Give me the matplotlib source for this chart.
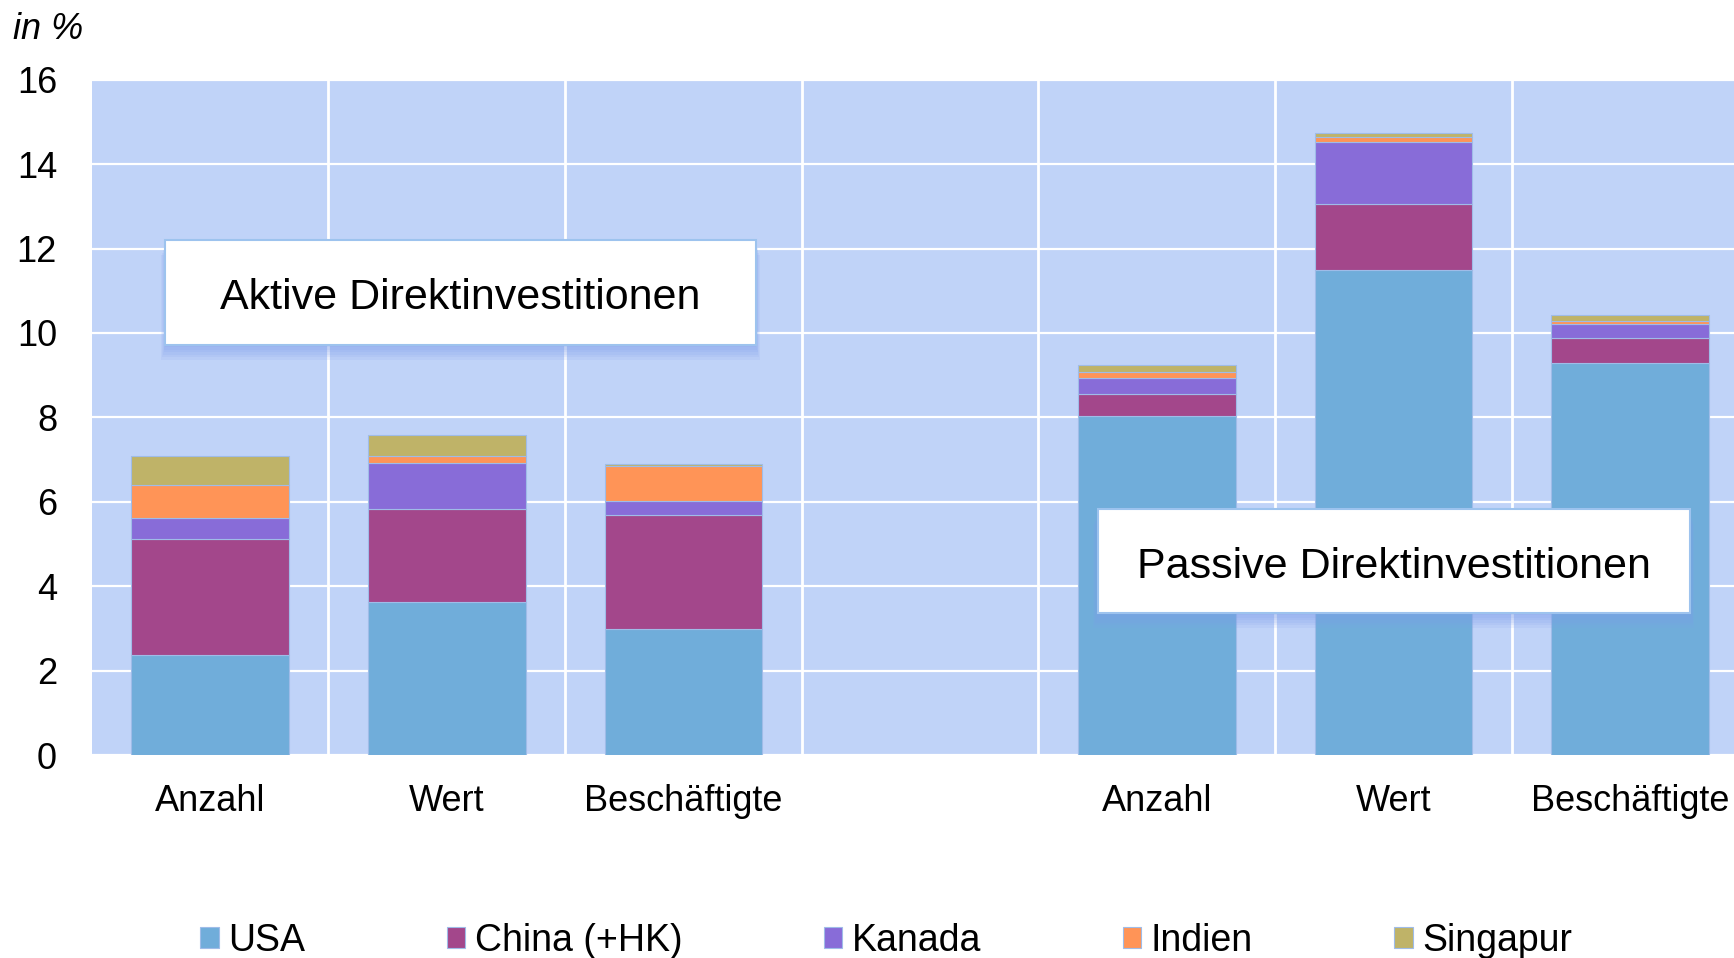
import matplotlib
matplotlib.use("Agg")
import matplotlib.pyplot as plt
from matplotlib.patches import Rectangle

# data (in %)
categories = ["Anzahl", "Wert", "Beschäftigte", "Anzahl", "Wert", "Beschäftigte"]
positions = [0, 1, 2, 4, 5, 6]
countries = ["USA", "China (+HK)", "Kanada", "Indien", "Singapur"]
usa = [2.38, 3.62, 2.98, 8.04, 11.50, 9.29]
china = [2.73, 2.21, 2.70, 0.52, 1.56, 0.60]
kanada = [0.51, 1.09, 0.33, 0.37, 1.47, 0.33]
indien = [0.77, 0.17, 0.84, 0.15, 0.10, 0.06]
singapur = [0.69, 0.49, 0.05, 0.16, 0.11, 0.14]
series = [usa, china, kanada, indien, singapur]
colors = ["#70ADDA", "#A3478B", "#886CD8", "#FF9457", "#BFB368"]

plt.rcParams['font.family'] = ['Liberation Sans', 'DejaVu Sans']

W, H = 1734, 958
fig = plt.figure(figsize=(W / 100, H / 100), dpi=100)
ax = fig.add_axes([91.8 / W, 1 - 755.3 / H, 1656.6 / W, 675.7 / H])
ax.set_facecolor("#C0D3F8")

bottom = [0.0] * len(positions)
for name, vals, col in zip(countries, series, colors):
    ax.bar(positions, vals, 0.666, bottom=bottom, color=col, label=name,
           edgecolor="#9FBCE8", linewidth=0.8, zorder=3)
    bottom = [b + v for b, v in zip(bottom, vals)]

ax.set_xlim(-0.5, 6.5)
ax.set_ylim(0, 16)
ax.set_yticks(range(0, 17, 2))
ax.set_xticks(positions)
ax.set_xticklabels(categories)
ax.set_xticks([0.5, 1.5, 2.5, 3.5, 4.5, 5.5], minor=True)

ax.tick_params(axis='y', length=0, pad=25, labelsize=26)
ax.tick_params(axis='x', which='both', length=0, pad=21, labelsize=26)

# grid lines
ax.yaxis.grid(True, color="white", linewidth=1.6)
ax.xaxis.grid(True, which='minor', color="white", linewidth=2.0)
ax.set_axisbelow(True)
for s in ax.spines.values():
    s.set_visible(False)

# text boxes with soft blue shadow
def label_box(x0, x1, y0, y1, text):
    for i in range(6):
        d = 0.06 * (i + 1)
        ax.add_patch(Rectangle((x0 - 0.004 * i, y0 - d), x1 - x0 + 0.008 * i,
                               y1 - y0, facecolor="#7F9FEC", edgecolor="none",
                               alpha=0.12, zorder=4))
    ax.add_patch(Rectangle((x0, y0), x1 - x0, y1 - y0, facecolor="white",
                           edgecolor="#9DC3EE", linewidth=1.5, zorder=5))
    ax.text((x0 + x1) / 2, (y0 + y1) / 2 - 0.14, text, ha='center', va='center',
            fontsize=31, zorder=6)

label_box(-0.189, 2.305, 9.72, 12.20, "Aktive Direktinvestitionen")
label_box(3.752, 6.252, 3.38, 5.84, "Passive Direktinvestitionen")

fig.text(13 / W, 1 - 38.7 / H, "in %", fontsize=26, style='italic',
         ha='left', va='baseline')

# legend
fig.legend(loc='center left', bbox_to_anchor=(200 / W, 1 - 941 / H), ncol=5,
           frameon=False, fontsize=27, handlelength=0.5, handleheight=0.5,
           handletextpad=0.25, columnspacing=3.77, borderpad=0, borderaxespad=0)

fig.savefig("out.png", dpi=100)
